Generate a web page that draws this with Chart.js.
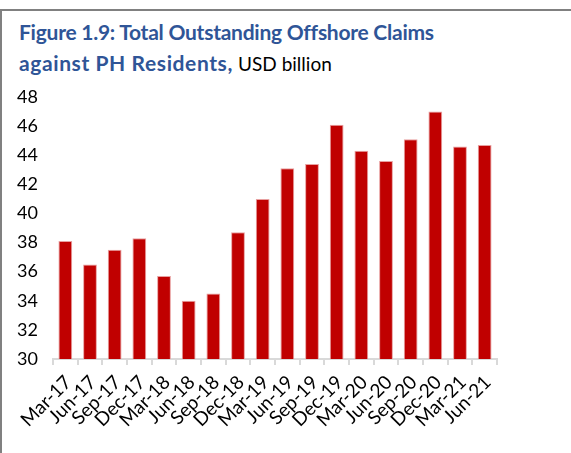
<!DOCTYPE html>
<html>
<head>
<meta charset="utf-8">
<title>Offshore Claims</title>
<script src="https://cdn.jsdelivr.net/npm/chart.js@4/dist/chart.umd.min.js"></script>
<style>
  html, body { margin: 0; padding: 0; background: #fff; }
  #frame {
    position: absolute; left: 0; top: 9px; width: 571px; height: 444px;
    border-top: 2px solid #808080; border-left: 2px solid #808080;
    box-sizing: border-box;
  }
  #heading {
    position: absolute; left: 19px; top: 16px; margin: 0;
    font-family: Lato, "Open Sans", sans-serif; font-size: 21px; line-height: 31px;
    font-weight: bold; color: #2f5597;
  }
  #heading .first { letter-spacing: -0.25px; }
  #heading .second { letter-spacing: 0.6px; }
  #heading .unit { font-weight: normal; color: #000; font-size: 19px; letter-spacing: 0; }
  #wrap { position: absolute; left: 0; top: 0; width: 571px; height: 453px; }
</style>
</head>
<body>
<div id="frame"></div>
<p id="heading"><span class="first">Figure 1.9: Total Outstanding Offshore Claims</span><br><span class="second">against PH Residents,</span> <span class="unit">USD billion</span></p>
<div id="wrap"><canvas id="claims"></canvas></div>
<script>
// quarter labels and outstanding claims, USD billion
const quarters = ['Mar-17', 'Jun-17', 'Sep-17', 'Dec-17', 'Mar-18', 'Jun-18', 'Sep-18', 'Dec-18', 'Mar-19',
  'Jun-19', 'Sep-19', 'Dec-19', 'Mar-20', 'Jun-20', 'Sep-20', 'Dec-20', 'Mar-21', 'Jun-21']
const claims = [38.1, 36.5, 37.5, 38.3, 35.7, 34.0, 34.5, 38.7, 41.0,
  43.1, 43.4, 46.1, 44.3, 43.6, 45.1, 47.0, 44.6, 44.7]
const yMin = 30
const yMax = 48
const yStep = 2

const font = { family: 'Lato, "Open Sans", sans-serif', size: 18 }

const chart = new Chart(document.getElementById('claims'), {
  type: 'bar',
  data: {
    labels: quarters,
    datasets: [{
      data: claims,
      backgroundColor: '#c00000',
      borderColor: '#e8a0a0',
      borderWidth: { top: 1, left: 1, right: 1, bottom: 0 },
      categoryPercentage: 1,
      barPercentage: 0.56
    }]
  },
  options: {
    responsive: true,
    maintainAspectRatio: false,
    animation: false,
    layout: { padding: { top: 97, right: 74, left: 0, bottom: 0 } },
    plugins: { legend: { display: false }, tooltip: { enabled: false } },
    scales: {
      x: {
        afterFit: (scale) => { scale.height = 94 },
        grid: { offset: true, drawOnChartArea: false, color: '#d9d9d9', lineWidth: 2, tickLength: 6 },
        border: { color: '#d9d9d9', width: 2 },
        ticks: {
          color: '#000',
          font: { ...font, size: 19 },
          minRotation: 45,
          maxRotation: 45,
          padding: 6,
          labelOffset: 3,
          autoSkip: false
        }
      },
      y: {
        min: yMin,
        max: yMax,
        afterFit: (scale) => { scale.width = 53 },
        grid: { display: false, drawTicks: false },
        border: { display: false },
        ticks: { stepSize: yStep, color: '#000', font, padding: 15 }
      }
    }
  }
})
</script>
</body>
</html>
